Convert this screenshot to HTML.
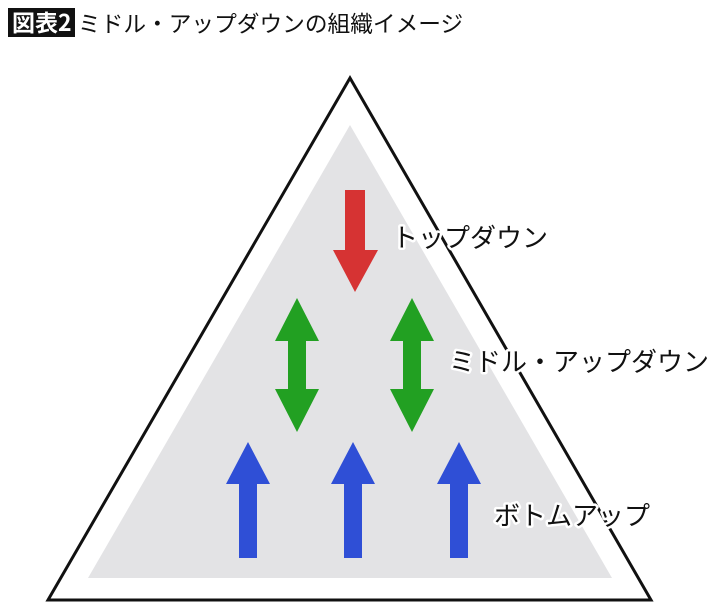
<!DOCTYPE html>
<html><head><meta charset="utf-8"><style>
body{margin:0;width:710px;height:615px;background:#fff;overflow:hidden;font-family:"Liberation Sans","Noto Sans CJK JP",sans-serif;}
</style></head><body>
<svg width="710" height="615" xmlns="http://www.w3.org/2000/svg" style="position:absolute;left:0;top:0">
<rect x="8" y="8" width="67" height="29" fill="#111"/>
<text x="12" y="31" font-size="23" font-weight="bold" fill="#fff" font-family="Noto Sans CJK JP, sans-serif">図表2</text>
<text x="78" y="32" font-size="22.7" fill="#111" font-family="Noto Sans CJK JP, sans-serif">ミドル・アップダウンの組織イメージ</text>
<polygon points="350,78 48,600 651,600" fill="#fff" stroke="#111" stroke-width="3"/>
<polygon points="350,125 88,578 612,578" fill="#e3e3e5"/>
<polygon points="345,190 365,190 365,250 378,250 355,292 333,250 345,250" fill="#d63333"/>
<g fill="#22a022">
<polygon points="297,298 319,341 306,341 306,389 319,389 297,432 275,389 288,389 288,341 275,341"/>
<polygon points="412,298 434,341 421,341 421,389 434,389 412,432 390,389 403,389 403,341 390,341"/>
</g>
<g fill="#2f4fd6">
<polygon points="248,442 270,484 257,484 257,558 239,558 239,484 226,484"/>
<polygon points="353,442 375,484 362,484 362,558 344,558 344,484 331,484"/>
<polygon points="459,442 481,484 468,484 468,558 450,558 450,484 437,484"/>
</g>
<g font-size="26" fill="#111" stroke="#fff" stroke-width="5" paint-order="stroke" stroke-linejoin="round" font-family="Noto Sans CJK JP, sans-serif">
<text x="392" y="247">トップダウン</text>
<text x="449" y="371">ミドル・アップダウン</text>
<text x="494" y="525">ボトムアップ</text>
</g>
</svg>
</body></html>
